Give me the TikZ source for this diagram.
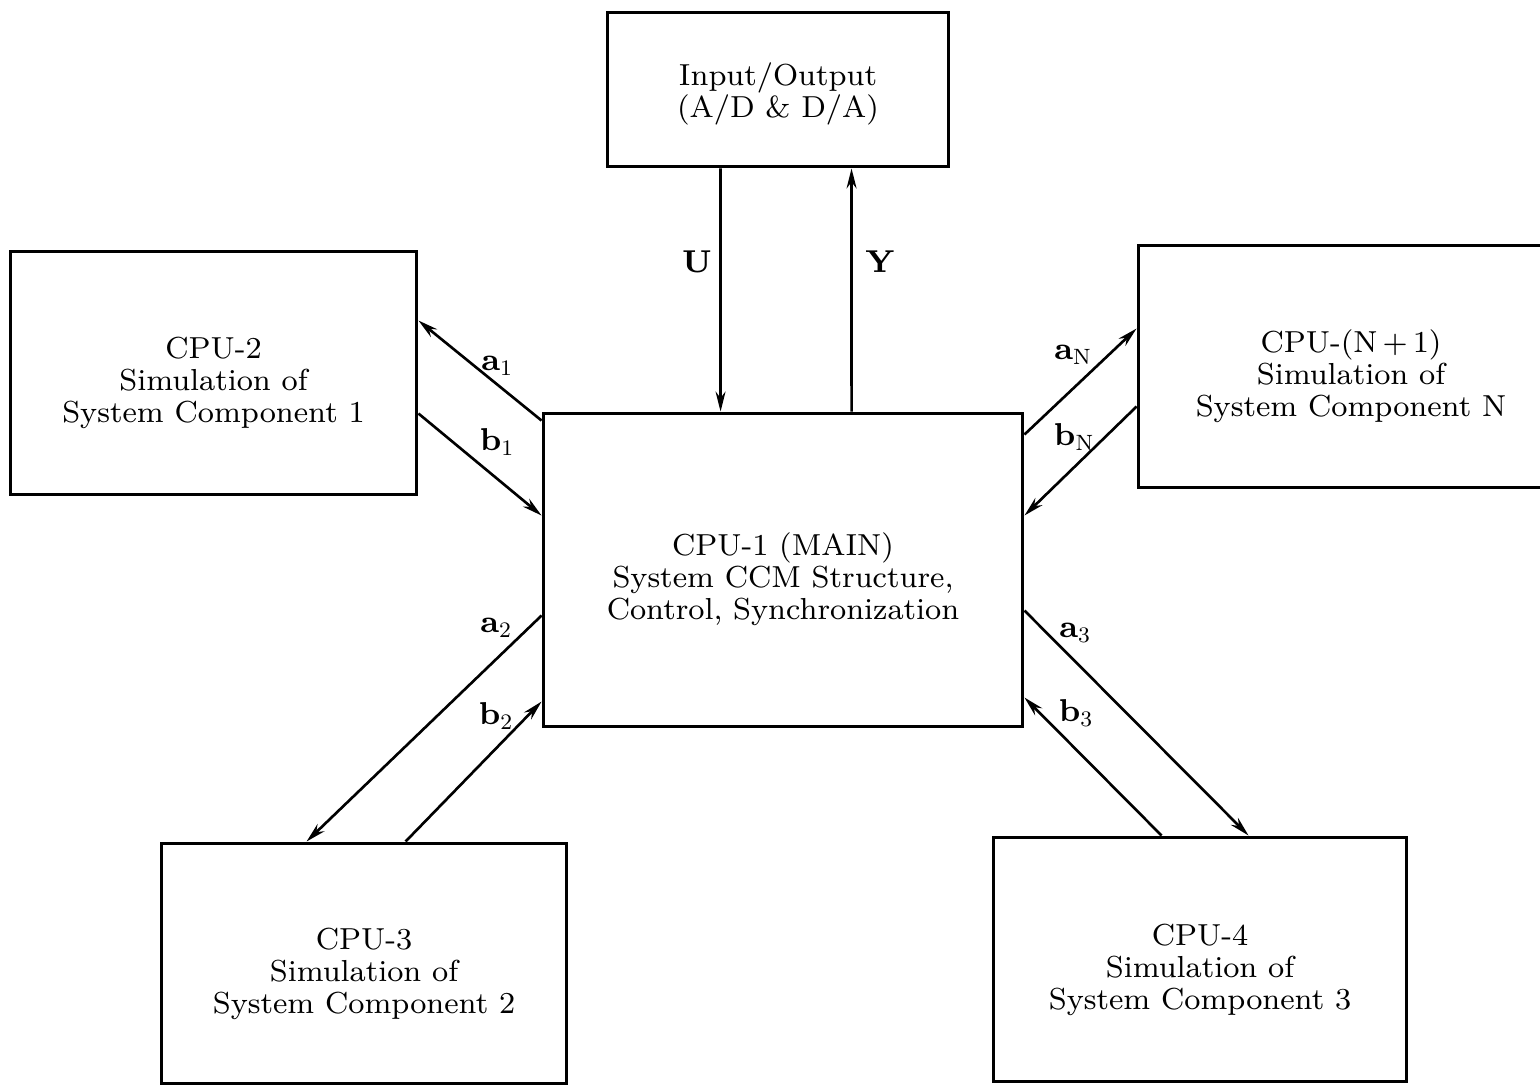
\documentclass[tikz,border=0pt]{standalone}
\usepackage{fontspec}
\setmainfont{lmroman8-regular}[Extension=.otf,BoldFont=lmroman8-bold]
\usetikzlibrary{calc,arrows.meta}
\newcommand{\sig}[2]{#1\textsubscript{\mdseries #2}}
\begin{document}
\begin{tikzpicture}[x=0.02cm,y=-0.02cm,
  box/.style={draw,line width=1.7pt,rectangle,inner sep=0pt},
  boxtext/.style={align=center,inner sep=0pt,
    font=\fontsize{17.3}{18.2}\selectfont},
  link/.style={line width=1.5pt,-{Stealth[length=0.4cm,width=0.2cm]}},
  tag/.style={font=\fontsize{18}{20}\selectfont\bfseries,inner sep=0pt}]
\useasboundingbox (0,0) rectangle (1540,1087);
\clip (0,0) rectangle (1540,1087);

% processor boxes
\node[box,minimum width=6.84cm,minimum height=3.10cm] (io) at (778,89.5) {};
\node[box,minimum width=8.14cm,minimum height=4.88cm] (cpu2) at (213.5,373) {};
\node[box,minimum width=8.52cm,minimum height=4.86cm] (cpun) at (1351,366.5) {};
\node[box,minimum width=9.60cm,minimum height=6.28cm] (main) at (783,570) {};
\node[box,minimum width=8.12cm,minimum height=4.82cm] (cpu3) at (364,963.5) {};
\node[box,minimum width=8.28cm,minimum height=4.90cm] (cpu4) at (1200,959.5) {};

% box captions
\node[boxtext] (iot) at ($(io.center)+(0,4)$) {Input/Output\\(A/D \& D/A)};
\node[boxtext] (cpu2t) at ($(cpu2.center)+(0,10)$)
  {CPU-2\\Simulation of\\System Component 1};
\node[boxtext] (cpunt) at ($(cpun.center)+(0,10)$)
  {CPU-(N\,+\,1)\\Simulation of\\System Component N};
\node[boxtext] (maint) at ($(main.center)+(0,9)$)
  {CPU-1 (MAIN)\\System CCM Structure,\\Control, Synchronization};
\node[boxtext] (cpu3t) at ($(cpu3.center)+(0,10)$)
  {CPU-3\\Simulation of\\System Component 2};
\node[boxtext] (cpu4t) at ($(cpu4.center)+(0,10)$)
  {CPU-4\\Simulation of\\System Component 3};

% input/output channels
\draw[link] ($(io.south west)+(115,0)$) -- ($(main.north west)+(179,0)$);
\draw[link] ($(main.north west)+(310,0)$) -- ($(io.south west)+(246,0)$);

% CPU-2
\draw[link] ($(main.north west)+(0,9)$) -- ($(cpu2.north east)+(0,71)$);
\draw[link] ($(cpu2.north east)+(0,164)$) -- ($(main.north west)+(0,104)$);

% CPU-(N+1)
\draw[link] ($(main.north east)+(0,23)$) -- ($(cpun.north west)+(0,85)$);
\draw[link] ($(cpun.north west)+(0,163)$) -- ($(main.north east)+(0,104)$);

% CPU-3
\draw[link] ($(main.north west)+(0,204)$) -- ($(cpu3.north west)+(147,0)$);
\draw[link] ($(cpu3.north west)+(246,0)$) -- ($(main.north west)+(0,290)$);

% CPU-4
\draw[link] ($(main.north east)+(0,199)$) -- ($(cpu4.north west)+(257,0)$);
\draw[link] ($(cpu4.north west)+(170,0)$) -- ($(main.north east)+(0,286)$);

% signal labels
\node[tag] (lu) at (697,262) {U};
\node[tag] (ly) at (880,262) {Y};
\node[tag] (la1) at (497,366) {\sig{a}{1}};
\node[tag] (lb1) at (497,442) {\sig{b}{1}};
\node[tag] (lan) at (1073,355) {\sig{a}{N}};
\node[tag] (lbn) at (1074,437) {\sig{b}{N}};
\node[tag] (la2) at (496,628) {\sig{a}{2}};
\node[tag] (lb2) at (496,716) {\sig{b}{2}};
\node[tag] (la3) at (1075,633) {\sig{a}{3}};
\node[tag] (lb3) at (1076,713) {\sig{b}{3}};
\end{tikzpicture}
\end{document}
